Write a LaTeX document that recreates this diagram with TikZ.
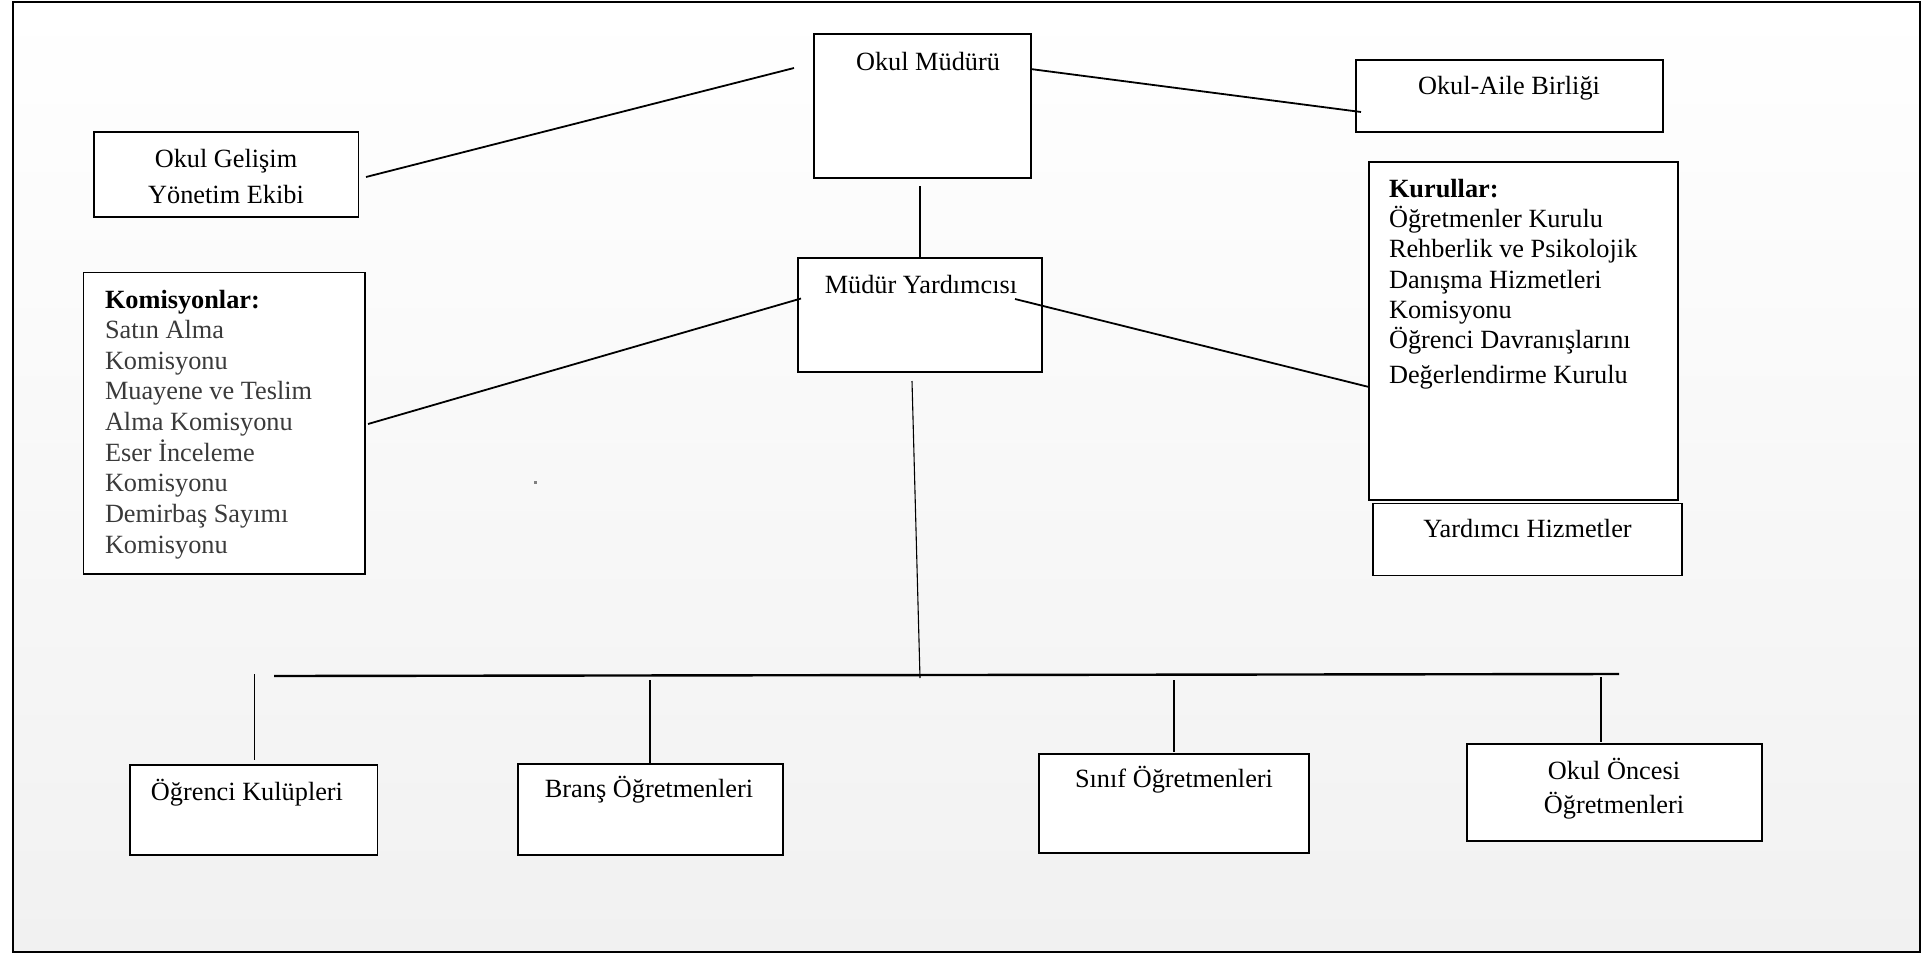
\documentclass[tikz,border=0pt]{standalone}
\usepackage{fontspec}
\setmainfont{Liberation Serif}
\usetikzlibrary{fit}
\definecolor{bgbot}{HTML}{F1F1F1}
\definecolor{itemgray}{HTML}{3A3A3A}
\newcommand\leftlines[1]{\begin{tabular}[t]{@{}l@{}}#1\end{tabular}}
\newcommand\ctrlines[1]{\begin{tabular}[t]{@{}c@{}}#1\end{tabular}}
\begin{document}
\begin{tikzpicture}[x=1pt,y=-1pt,
  box/.style={draw=black,line width=1.8pt,fill=white,inner sep=0pt,outer sep=0pt},
  txt/.style={inner sep=0pt,outer sep=0pt,font=\fontsize{26.3}{30.6}\selectfont},
  conn/.style={line width=1.8pt},
  thinconn/.style={line width=1.1pt},
  busline/.style={line width=2.4pt}]
% canvas
\useasboundingbox (0,0) rectangle (1928,954);
\fill[white] (0,0) rectangle (1928,954);
\shade[top color=white,bottom color=bgbot] (13,2) rectangle (1920,952);
\draw[line width=2.6pt] (13,2) rectangle (1920,952);
\fill[gray] (534,481) rectangle (536.5,483.5);

% boxes
\node[box,fit={(93.7,132) (358.5,217)}] (og) {};
\node[box,fit={(83.5,272.5) (365,574)}] (kom) {};
\node[box,fit={(814,34) (1031,178)}] (om) {};
\node[box,fit={(1356,60) (1663,132)}] (oa) {};
\node[box,fit={(798,258) (1042,372)}] (my) {};
\node[box,fit={(1369,162) (1678,500)}] (kur) {};
\node[box,fit={(1373,503.5) (1682,575.5)}] (yh) {};
\node[box,fit={(130,765) (377.5,855)}] (ok) {};
\node[box,fit={(518,764) (783,855)}] (bo) {};
\node[box,fit={(1039,754) (1309,853)}] (so) {};
\node[box,fit={(1467,744) (1762,841)}] (oo) {};

% texts
\node[txt,anchor=base] (ogt) at (226,167) {\fontsize{26.3}{36}\selectfont\ctrlines{Okul Gelişim\\Yönetim Ekibi}};
\node[txt,anchor=base west] (komt) at (105,308) {\leftlines{\textbf{Komisyonlar:}\\
  \textcolor{itemgray}{Satın Alma}\\
  \textcolor{itemgray}{Komisyonu}\\
  \textcolor{itemgray}{Muayene ve Teslim}\\
  \textcolor{itemgray}{Alma Komisyonu}\\
  \textcolor{itemgray}{Eser İnceleme}\\
  \textcolor{itemgray}{Komisyonu}\\
  \textcolor{itemgray}{Demirbaş Sayımı}\\
  \textcolor{itemgray}{Komisyonu}}};
\node[txt,anchor=base] (omt) at (928,70) {Okul Müdürü};
\node[txt,anchor=base] (oat) at (1509,94) {Okul-Aile Birliği};
\node[txt,anchor=base] (myt) at (921,293) {Müdür Yardımcısı};
\node[txt,anchor=base west] (kurt) at (1389,197) {\fontsize{26.3}{30.3}\selectfont\leftlines{\textbf{Kurullar:}\\
  Öğretmenler Kurulu\\
  Rehberlik ve Psikolojik\\
  Danışma Hizmetleri\\
  Komisyonu\\
  Öğrenci Davranışlarını\\[5pt]
  Değerlendirme Kurulu}};
\node[txt,anchor=base] (yht) at (1527.5,537) {Yardımcı Hizmetler};
\node[txt,anchor=base] (okt) at (247,800) {Öğrenci Kulüpleri};
\node[txt,anchor=base] (bot) at (649,797) {Branş Öğretmenleri};
\node[txt,anchor=base] (sot) at (1174,787) {Sınıf Öğretmenleri};
\node[txt,anchor=base] (oot) at (1614,779) {\fontsize{26.3}{34}\selectfont\ctrlines{Okul Öncesi\\Öğretmenleri}};

% connector end points
\coordinate (c1a) at (366,177);   \coordinate (c1b) at (794,68);
\coordinate (c2a) at (1030.5,69); \coordinate (c2b) at (1361,112);
\coordinate (c3a) at (920,186);   \coordinate (c3b) at (920,257);
\coordinate (c4a) at (368,424);   \coordinate (c4b) at (801,298.5);
\coordinate (c5a) at (1015,299);  \coordinate (c5b) at (1369,387);
\coordinate (c6a) at (912,381);   \coordinate (c6b) at (920,678);
\coordinate (busL) at (274,676);  \coordinate (busR) at (1619,674);
\coordinate (s1a) at (254.5,674); \coordinate (s1b) at (254.5,760);
\coordinate (s2a) at (650,680);   \coordinate (s2b) at (650,764);
\coordinate (s3a) at (1174,680);  \coordinate (s3b) at (1174,752);
\coordinate (s4a) at (1601,677);  \coordinate (s4b) at (1601,742);

% connectors
\draw[conn] (c1a) -- (c1b);
\draw[conn] (c2a) -- (c2b);
\draw[thinconn] (c3a) -- (c3b);
\draw[conn] (c4a) -- (c4b);
\draw[conn] (c5a) -- (c5b);
\draw[thinconn] (c6a) -- (c6b);
\draw[busline] (busL) -- (busR);
\draw[thinconn] (s1a) -- (s1b);
\draw[thinconn] (s2a) -- (s2b);
\draw[thinconn] (s3a) -- (s3b);
\draw[thinconn] (s4a) -- (s4b);
\end{tikzpicture}
\end{document}
